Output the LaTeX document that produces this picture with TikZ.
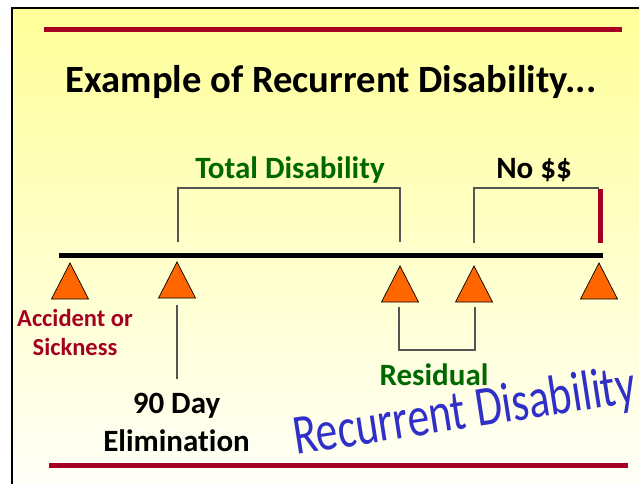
\documentclass[tikz,border=0pt]{standalone}
\usepackage{fontspec}
\setmainfont{Carlito}[Ligatures=NoCommon]
\usetikzlibrary{calc}
\definecolor{bgtop}{RGB}{255,255,153}
\definecolor{bgbot}{RGB}{255,255,248}
\definecolor{slidered}{RGB}{165,0,33}
\definecolor{tdgreen}{RGB}{0,104,0}
\definecolor{tri}{RGB}{255,102,0}
\definecolor{wordblue}{RGB}{48,48,200}
\definecolor{brk}{RGB}{85,85,85}
\begin{document}
\begin{tikzpicture}[x=1pt,y=-1pt,
  lbl/.style={inner sep=0pt,font=\bfseries\fontsize{31}{38}\selectfont,align=center},
  redrule/.style={draw=slidered,line width=5pt},
  bracket/.style={draw=brk,line width=1.1pt},
  tristyle/.style={fill=tri,draw=black,line width=0.7pt,line join=miter}]
\useasboundingbox (0,0) rectangle (639,483);
% background
\shade[top color=bgtop,bottom color=bgbot] (12,8) rectangle (639,483);
\draw[line width=2.6pt] (12,490) -- (12,8) -- (645,8);
% rules
\draw[redrule] (44,29.5) -- (622,29.5);
\draw[redrule] (49,465) -- (628,465);
% title
\node[lbl,font=\bfseries\fontsize{38.6}{44}\selectfont,anchor=base] (title) at (331,92) {Example of Recurrent Disability...};
% timeline
\coordinate (tlL) at (59,255.5);
\coordinate (tlR) at (603,255.5);
\draw[line width=5pt] (tlL) -- (tlR);
% triangles
\foreach \n/\cx/\ty in {t1/70/263,t2/177/262,t3/400/266,t4/474/266,t5/599/263}{
  \coordinate (\n) at (\cx,\ty);
  \coordinate (\n b) at (\cx,\ty+36);
  \draw[tristyle] (\cx,\ty) -- (\cx+18.5,\ty+36) -- (\cx-18.5,\ty+36) -- cycle;
}
% brackets
\coordinate (tdA) at (178,242);
\coordinate (tdB) at (400,242);
\draw[bracket] (tdA) -- (178,188) -- (400,188) -- (tdB);
\coordinate (nsA) at (474,243);
\coordinate (nsB) at (599,188);
\draw[bracket] (nsA) -- (474,188) -- (nsB);
\draw[draw=slidered,line width=4.5pt] (600.5,189) -- (600.5,243);
\coordinate (rsA) at (399,307);
\coordinate (rsB) at (475,307);
\draw[bracket] (rsA) -- (399,350) -- (475,350) -- (rsB);
\coordinate (edA) at (177,305);
\coordinate (edB) at (177,379);
\draw[bracket] (edA) -- (edB);
% labels
\node[lbl,text=tdgreen,anchor=base] (total) at (290,178) {Total Disability};
\node[lbl,anchor=base] (nomoney) at (534,178) {No \$\$};
\node[lbl,text=slidered,font=\bfseries\fontsize{24.5}{28.5}\selectfont,anchor=base] (acc) at (75,355) {Accident or\\Sickness};
\node[lbl,anchor=base] (elim) at (176.5,451) {90 Day\\Elimination};
\node[lbl,text=tdgreen,anchor=base] (resid) at (434,385) {Residual};
\node[inner sep=0pt,anchor=base west,rotate=8.8,text=wordblue,font=\fontsize{43.5}{44}\selectfont] (wordart) at (296,455) {\scalebox{1}[1.3]{Recurrent Disability}};
\end{tikzpicture}
\end{document}
